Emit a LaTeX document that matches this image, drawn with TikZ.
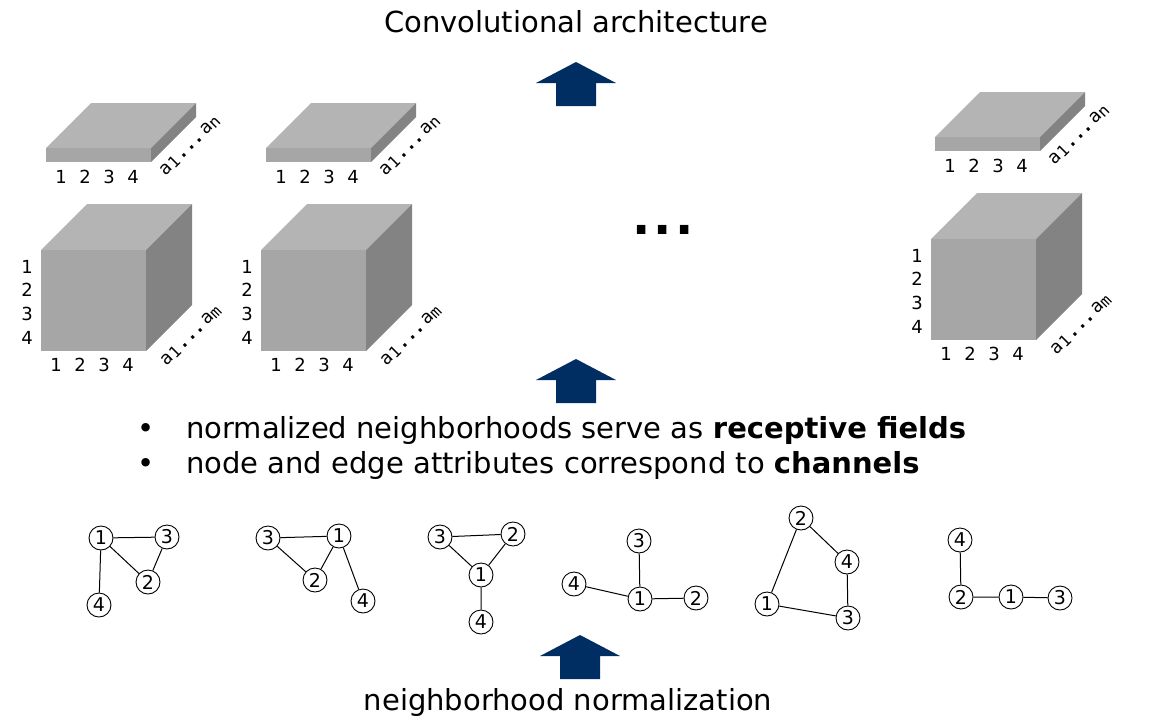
\documentclass[tikz,border=0pt]{standalone}
\usepackage{fontspec}
\setmainfont{DejaVu Sans}
\newfontfamily\monof{DejaVu Sans Mono}
\definecolor{navy}{RGB}{0,45,98}
\definecolor{topg}{RGB}{180,180,180}
\definecolor{frontg}{RGB}{166,166,166}
\definecolor{sideg}{RGB}{131,131,131}
\tikzset{
  gnode/.style={circle,draw,line width=0.9pt,minimum size=24pt,inner sep=0pt,font=\fontsize{19}{19}\selectfont},
  gedge/.style={line width=1pt},
  dig/.style={font=\fontsize{18}{18}\selectfont,inner sep=0pt},
  alab/.style={font=\monof\fontsize{18}{18}\selectfont,rotate=45,inner sep=0pt},
  bigtext/.style={font=\fontsize{29}{29}\selectfont,inner sep=0pt},
  topface/.style={fill=topg},
  frontface/.style={fill=frontg},
  sideface/.style={fill=sideg},
}
\newcommand\alabel[1]{a\raisebox{-2pt}{\fontsize{16}{16}\selectfont 1}\kern2pt\textbf{...}\kern2pt a\raisebox{-2pt}{\fontsize{16}{16}\selectfont #1}}
% slab: #1 prefix, #2 x, #3 y (front top-left corner)
\newcommand\myslab[3]{%
  \fill[topface] (#2,#3) -- (#2+45,#3-45) -- (#2+150,#3-45) -- (#2+105,#3) -- cycle;
  \fill[frontface] (#2,#3) rectangle (#2+105,#3+14);
  \fill[sideface] (#2+105,#3) -- (#2+150,#3-45) -- (#2+150,#3-31) -- (#2+105,#3+14) -- cycle;
  \node[dig] (#1b1) at (#2+15,#3+29) {1};
  \node[dig] (#1b2) at (#2+39,#3+29) {2};
  \node[dig] (#1b3) at (#2+63,#3+29) {3};
  \node[dig] (#1b4) at (#2+87,#3+29) {4};
  \node[alab] (#1a) at (#2+144,#3-2) {\alabel{n}};
}
% cube: #1 prefix, #2 x, #3 y (front top-left corner)
\newcommand\mycube[3]{%
  \fill[topface] (#2,#3) -- (#2+46,#3-46) -- (#2+151,#3-46) -- (#2+105,#3) -- cycle;
  \fill[frontface] (#2,#3) rectangle (#2+105,#3+101);
  \fill[sideface] (#2+105,#3) -- (#2+151,#3-46) -- (#2+151,#3+55) -- (#2+105,#3+101) -- cycle;
  \node[dig] (#1l1) at (#2-14,#3+17) {1};
  \node[dig] (#1l2) at (#2-14,#3+40) {2};
  \node[dig] (#1l3) at (#2-14,#3+64) {3};
  \node[dig] (#1l4) at (#2-14,#3+88) {4};
  \node[dig] (#1b1) at (#2+15,#3+115) {1};
  \node[dig] (#1b2) at (#2+39,#3+115) {2};
  \node[dig] (#1b3) at (#2+63,#3+115) {3};
  \node[dig] (#1b4) at (#2+87,#3+115) {4};
  \node[alab] (#1a) at (#2+150,#3+86) {\alabel{m}};
}
% up arrow: #1 centre x, #2 top y
\newcommand\navyarrow[2]{%
  \fill[navy] (#1,#2) -- (#1+40,#2+21) -- (#1+20,#2+21) -- (#1+20,#2+44) -- (#1-20,#2+44) -- (#1-20,#2+21) -- (#1-40,#2+21) -- cycle;
}
\begin{document}
\begin{tikzpicture}[x=1pt,y=-1pt]
\path[use as bounding box] (0,0) rectangle (1151,726);

\node[bigtext,anchor=base] (title) at (576,32) {Convolutional architecture};
\navyarrow{576}{62}

\myslab{s1}{46}{148}
\myslab{s2}{266}{148}
\myslab{s3}{935}{137}
\mycube{c1}{41}{250}
\mycube{c2}{261}{250}
\mycube{c3}{931}{239}

\node[inner sep=0pt,font=\fontsize{48}{48}\selectfont\bfseries] (dots) at (663,230) {.\kern3pt.\kern3pt.};

\navyarrow{576}{359}

\node[bigtext,anchor=base] (bul1) at (146,438) {•};
\node[bigtext,anchor=base west] (l1) at (186,438) {normalized neighborhoods serve as \textbf{receptive fields}};
\node[bigtext,anchor=base] (bul2) at (146,473) {•};
\node[bigtext,anchor=base west] (l2) at (186,473) {node and edge attributes correspond to \textbf{channels}};

% graph 1
\node[gnode] (g1n1) at (101,538) {1};
\node[gnode] (g1n3) at (167,537) {3};
\node[gnode] (g1n2) at (148,582) {2};
\node[gnode] (g1n4) at (99,605) {4};
\draw[gedge] (g1n1) -- (g1n3) (g1n1) -- (g1n2) (g1n2) -- (g1n3) (g1n1) -- (g1n4);
% graph 2
\node[gnode] (g2n3) at (268,538) {3};
\node[gnode] (g2n1) at (339,536) {1};
\node[gnode] (g2n2) at (315,580) {2};
\node[gnode] (g2n4) at (363,601) {4};
\draw[gedge] (g2n3) -- (g2n1) (g2n3) -- (g2n2) (g2n2) -- (g2n1) (g2n1) -- (g2n4);
% graph 3
\node[gnode] (g3n3) at (440,537) {3};
\node[gnode] (g3n2) at (513,534) {2};
\node[gnode] (g3n1) at (481,575) {1};
\node[gnode] (g3n4) at (481,622) {4};
\draw[gedge] (g3n3) -- (g3n2) (g3n3) -- (g3n1) (g3n2) -- (g3n1) (g3n1) -- (g3n4);
% graph 4
\node[gnode] (g4n3) at (639,541) {3};
\node[gnode] (g4n4) at (574,584) {4};
\node[gnode] (g4n1) at (640,599) {1};
\node[gnode] (g4n2) at (696,598) {2};
\draw[gedge] (g4n3) -- (g4n1) (g4n4) -- (g4n1) (g4n1) -- (g4n2);
% graph 5
\node[gnode] (g5n2) at (801,518) {2};
\node[gnode] (g5n4) at (847,562) {4};
\node[gnode] (g5n1) at (767,604) {1};
\node[gnode] (g5n3) at (848,618) {3};
\draw[gedge] (g5n2) -- (g5n4) (g5n2) -- (g5n1) (g5n4) -- (g5n3) (g5n1) -- (g5n3);
% graph 6
\node[gnode] (g6n4) at (960,540) {4};
\node[gnode] (g6n2) at (961,597) {2};
\node[gnode] (g6n1) at (1011,597) {1};
\node[gnode] (g6n3) at (1060,598) {3};
\draw[gedge] (g6n4) -- (g6n2) (g6n2) -- (g6n1) (g6n1) -- (g6n3);

\navyarrow{580}{635}
\node[bigtext,anchor=base] (bottom) at (568,710) {neighborhood normalization};
\end{tikzpicture}
\end{document}
